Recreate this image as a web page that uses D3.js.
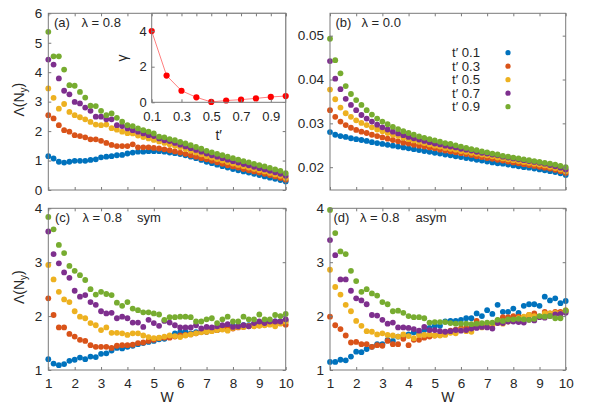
<!DOCTYPE html>
<html><head><meta charset="utf-8">
<script src="https://cdn.jsdelivr.net/npm/d3@7"></script>
<style>
body{margin:0;background:#fff}
svg{display:block}
text{font-family:"Liberation Sans",Arial,Helvetica,sans-serif;fill:#262626}
</style>
</head><body>
<svg id="chart" width="589" height="412"></svg>
<script>
// ---------------- data ----------------
const W = [1.0,1.2,1.4,1.6,1.8,2.0,2.2,2.4,2.6,2.8,3.0,3.2,3.4,3.6,3.8,4.0,4.2,4.4,4.6,4.8,5.0,5.2,5.4,5.6,5.8,6.0,6.2,6.4,6.6,6.8,7.0,7.2,7.4,7.6,7.8,8.0,8.2,8.4,8.6,8.8,9.0,9.2,9.4,9.6,9.8,10.0];
const seriesNames = ["t\u2032 0.1","t\u2032 0.3","t\u2032 0.5","t\u2032 0.7","t\u2032 0.9"];
const xTicks = [1,2,3,4,5,6,7,8,9,10];
const aTicks = [0,1,2,3,4,5,6];
const bTicks = [0.02,0.03,0.04,0.05];
const cdTicks = [1,2,3,4];

// panel (a) lambda = 0.8
const a_t01 = [1.15,1.07,0.96,0.93,0.96,0.99,0.99,0.99,1.02,1.04,1.11,1.13,1.15,1.18,1.19,1.24,1.27,1.30,1.30,1.32,1.32,1.32,1.30,1.27,1.25,1.22,1.18,1.13,1.08,1.02,0.96,0.91,0.86,0.81,0.76,0.71,0.67,0.63,0.59,0.55,0.51,0.46,0.42,0.38,0.34,0.29];
const a_t03 = [2.54,2.43,2.20,2.03,1.98,1.86,1.83,1.79,1.72,1.72,1.67,1.60,1.53,1.49,1.49,1.49,1.55,1.45,1.45,1.45,1.43,1.41,1.38,1.35,1.31,1.27,1.23,1.18,1.13,1.08,1.04,0.99,0.94,0.89,0.84,0.80,0.76,0.71,0.67,0.63,0.59,0.55,0.51,0.46,0.41,0.35];
const a_t05 = [3.45,3.13,2.76,2.92,2.65,2.54,2.47,2.40,2.31,2.22,2.20,2.22,2.10,2.05,1.98,1.93,1.92,1.85,1.80,1.75,1.70,1.65,1.60,1.55,1.50,1.45,1.39,1.33,1.27,1.21,1.15,1.10,1.05,1.00,0.95,0.90,0.85,0.81,0.76,0.72,0.67,0.63,0.58,0.53,0.48,0.41];
const a_t07 = [4.43,4.26,3.79,3.37,3.25,2.99,2.94,2.80,2.69,2.49,2.49,2.40,2.40,2.20,2.17,2.09,2.03,1.98,1.92,1.86,1.83,1.75,1.69,1.66,1.60,1.54,1.48,1.42,1.36,1.30,1.24,1.18,1.13,1.08,1.03,0.98,0.93,0.88,0.84,0.79,0.74,0.70,0.65,0.60,0.55,0.48];
const a_t09 = [5.37,4.54,4.54,4.09,3.56,3.54,3.33,3.14,2.86,2.85,2.69,2.54,2.60,2.45,2.32,2.20,2.17,2.09,2.03,1.98,1.92,1.81,1.79,1.73,1.69,1.63,1.58,1.52,1.46,1.40,1.33,1.28,1.23,1.18,1.13,1.08,1.03,0.98,0.94,0.89,0.84,0.80,0.75,0.70,0.65,0.57];

// inset gamma vs t'
const tPrime = [0.1,0.2,0.3,0.4,0.5,0.6,0.7,0.8,0.9,1.0];
const gamma = [4.0,1.5,0.65,0.28,0.02,0.10,0.15,0.22,0.30,0.35];
const insetXTicks = [0.1,0.3,0.5,0.7,0.9];
const insetYTicks = [0,2,4];

// panel (b) lambda = 0.0
const b_t01 = [0.0280,0.0274,0.0271,0.0269,0.0266,0.0264,0.0262,0.0260,0.0257,0.0255,0.0253,0.0251,0.0249,0.0247,0.0245,0.0243,0.0241,0.0239,0.0237,0.0235,0.0233,0.0231,0.0229,0.0227,0.0225,0.0223,0.0221,0.0219,0.0217,0.0215,0.0213,0.0211,0.0209,0.0208,0.0206,0.0204,0.0202,0.0200,0.0199,0.0197,0.0195,0.0193,0.0191,0.0189,0.0186,0.0182];
const b_t03 = [0.0330,0.0315,0.0304,0.0296,0.0290,0.0285,0.0281,0.0278,0.0274,0.0271,0.0268,0.0265,0.0262,0.0259,0.0256,0.0254,0.0251,0.0249,0.0247,0.0245,0.0243,0.0240,0.0238,0.0236,0.0234,0.0232,0.0230,0.0228,0.0225,0.0223,0.0221,0.0219,0.0217,0.0215,0.0213,0.0211,0.0209,0.0207,0.0205,0.0203,0.0201,0.0199,0.0197,0.0194,0.0191,0.0187];
const b_t05 = [0.0377,0.0355,0.0336,0.0323,0.0315,0.0307,0.0301,0.0296,0.0291,0.0286,0.0282,0.0278,0.0274,0.0271,0.0267,0.0264,0.0261,0.0258,0.0255,0.0252,0.0249,0.0247,0.0244,0.0242,0.0240,0.0237,0.0235,0.0233,0.0231,0.0229,0.0227,0.0225,0.0222,0.0220,0.0218,0.0216,0.0214,0.0212,0.0210,0.0208,0.0206,0.0204,0.0201,0.0198,0.0195,0.0191];
const b_t07 = [0.0442,0.0402,0.0378,0.0356,0.0342,0.0330,0.0319,0.0311,0.0304,0.0297,0.0291,0.0286,0.0281,0.0277,0.0273,0.0269,0.0266,0.0263,0.0260,0.0257,0.0254,0.0252,0.0249,0.0247,0.0245,0.0242,0.0240,0.0238,0.0235,0.0233,0.0231,0.0229,0.0227,0.0224,0.0222,0.0220,0.0218,0.0216,0.0214,0.0212,0.0210,0.0208,0.0205,0.0202,0.0199,0.0195];
const b_t09 = [0.0493,0.0444,0.0414,0.0385,0.0367,0.0353,0.0342,0.0330,0.0320,0.0311,0.0304,0.0298,0.0292,0.0287,0.0282,0.0278,0.0274,0.0270,0.0267,0.0264,0.0261,0.0258,0.0255,0.0253,0.0250,0.0247,0.0244,0.0241,0.0239,0.0236,0.0234,0.0231,0.0229,0.0226,0.0224,0.0222,0.0220,0.0218,0.0216,0.0214,0.0212,0.0210,0.0208,0.0206,0.0203,0.0200];

// panel (c) lambda = 0.8 sym
const c_t01 = [1.20,1.12,1.09,1.11,1.17,1.19,1.23,1.20,1.25,1.24,1.30,1.31,1.36,1.41,1.40,1.43,1.45,1.48,1.50,1.52,1.54,1.57,1.58,1.62,1.68,1.70,1.71,1.68,1.70,1.71,1.71,1.74,1.74,1.77,1.79,1.82,1.82,1.83,1.83,1.85,1.87,1.87,1.89,1.90,1.90,1.91];
const c_t03 = [2.33,2.02,1.79,1.79,1.67,1.62,1.56,1.54,1.46,1.43,1.43,1.43,1.41,1.45,1.46,1.46,1.47,1.50,1.51,1.54,1.56,1.59,1.60,1.60,1.62,1.64,1.65,1.66,1.68,1.71,1.71,1.73,1.74,1.76,1.77,1.77,1.79,1.80,1.82,1.82,1.83,1.84,1.85,1.87,1.87,1.84];
const c_t05 = [2.95,2.68,2.45,2.31,2.26,2.09,1.99,1.96,1.87,1.83,1.74,1.79,1.69,1.69,1.68,1.65,1.68,1.68,1.64,1.61,1.59,1.60,1.62,1.64,1.63,1.61,1.64,1.66,1.68,1.70,1.71,1.72,1.74,1.75,1.73,1.78,1.80,1.80,1.81,1.81,1.82,1.83,1.84,1.81,1.86,1.90];
const c_t07 = [3.57,3.15,2.98,2.81,2.71,2.47,2.36,2.39,2.26,2.21,2.09,2.05,2.06,1.96,1.99,1.96,1.88,1.88,1.80,1.93,1.87,1.82,1.91,1.88,1.83,1.79,1.79,1.79,1.83,1.77,1.80,1.79,1.81,1.83,1.85,1.80,1.81,1.83,1.81,1.87,1.90,1.87,1.90,1.90,1.90,1.94];
const c_t09 = [3.84,3.61,3.32,3.17,2.93,2.84,2.76,2.67,2.50,2.40,2.45,2.41,2.39,2.25,2.19,2.26,2.14,2.11,2.07,2.07,2.05,2.03,1.93,1.98,1.98,1.99,1.99,1.98,1.90,1.90,1.94,1.96,1.87,1.94,1.99,1.90,1.90,1.99,1.94,1.94,2.03,1.94,1.94,2.02,2.00,2.04];

// panel (d) lambda = 0.8 asym
const d_t01 = [1.15,1.15,1.19,1.18,1.25,1.34,1.33,1.39,1.43,1.48,1.48,1.56,1.54,1.62,1.63,1.66,1.70,1.68,1.74,1.78,1.82,1.82,1.90,1.91,1.91,1.93,1.96,1.96,2.05,2.00,2.11,2.04,2.21,2.08,2.08,2.14,2.06,2.19,2.22,2.22,2.19,2.36,2.29,2.33,2.24,2.28];
const d_t03 = [1.99,1.83,1.76,1.64,1.51,1.52,1.48,1.48,1.43,1.46,1.45,1.54,1.48,1.48,1.58,1.46,1.56,1.56,1.60,1.62,1.64,1.65,1.70,1.73,1.75,1.77,1.78,1.80,1.91,1.82,1.85,1.84,1.92,1.98,1.98,2.00,1.99,1.98,2.02,2.05,1.99,2.08,2.05,2.08,2.08,2.10];
const d_t05 = [2.86,2.54,2.40,2.21,2.09,1.91,1.82,1.72,1.71,1.66,1.68,1.65,1.64,1.62,1.66,1.63,1.59,1.65,1.65,1.66,1.64,1.64,1.65,1.69,1.68,1.74,1.72,1.71,1.80,1.79,1.85,1.83,1.87,1.86,1.90,1.92,1.96,1.99,2.02,2.00,1.99,2.05,2.05,2.06,2.05,2.11];
const d_t07 = [3.41,3.13,2.68,2.68,2.47,2.33,2.29,2.22,2.02,2.01,1.93,1.86,1.88,1.79,1.79,1.78,1.76,1.73,1.80,1.74,1.74,1.72,1.71,1.72,1.74,1.73,1.74,1.77,1.78,1.80,1.79,1.77,1.87,1.87,1.90,1.90,1.89,1.88,1.93,1.92,1.98,1.97,2.00,2.03,2.04,2.06];
const d_t09 = [3.97,3.54,3.20,3.15,2.84,2.65,2.45,2.50,2.42,2.38,2.26,2.22,2.09,2.10,2.06,2.00,1.98,1.98,1.96,1.88,1.89,1.89,1.89,1.87,1.86,1.86,1.86,1.85,1.86,1.87,1.88,1.88,1.93,1.91,1.94,1.94,1.95,1.94,1.93,1.95,2.00,1.99,2.00,1.96,1.96,2.10];

// ---------------- drawing ----------------
const colors = ["#0072BD","#D95319","#EDB120","#7E2F8E","#77AC30"];
const frameColor = "#7a7a7a";
const FS = 13.5;     // main tick labels
const FST = 13;      // panel titles
const FSI = 13;      // inset tick labels
const FSL = 12;      // legend

const svg = d3.select("#chart");
svg.append("rect").attr("width",589).attr("height",412).attr("fill","#fff");

function styleAxis(sel, fs){
  sel.select(".domain").remove();
  sel.attr("font-family",null).attr("font-size",null);
  sel.selectAll(".tick line").attr("stroke",frameColor);
  sel.selectAll(".tick text").attr("fill","#262626").style("font-size",fs+"px");
}

function panel(cfg){
  const x = d3.scaleLinear().domain([1,10]).range([cfg.l,cfg.r]);
  const y = d3.scaleLinear().domain(cfg.ydom).range([cfg.b,cfg.t]);
  const g = svg.append("g");
  cfg.series.forEach((s,i)=>{
    g.append("g").selectAll("circle").data(s).join("circle")
      .attr("cx",(d,j)=>x(W[j])).attr("cy",d=>y(d)).attr("r",2.9).attr("fill",colors[i]);
  });
  // axes (inward ticks on all four sides)
  g.append("g").attr("transform",`translate(0,${cfg.b})`)
    .call(d3.axisBottom(x).tickValues(xTicks).tickSize(-3).tickPadding(8.5)
      .tickFormat(cfg.xlabels ? d3.format("d") : ""))
    .call(s=>styleAxis(s,FS));
  g.append("g").attr("transform",`translate(0,${cfg.t})`)
    .call(d3.axisTop(x).tickValues(xTicks).tickSize(-3).tickFormat(""))
    .call(s=>styleAxis(s,FS));
  g.append("g").attr("transform",`translate(${cfg.l},0)`)
    .call(d3.axisLeft(y).tickValues(cfg.yticks).tickSize(-3).tickPadding(6).tickFormat(cfg.yfmt))
    .call(s=>styleAxis(s,FS));
  g.append("g").attr("transform",`translate(${cfg.r},0)`)
    .call(d3.axisRight(y).tickValues(cfg.yticks).tickSize(-3).tickFormat(""))
    .call(s=>styleAxis(s,FS));
  g.append("rect").attr("x",cfg.l).attr("y",cfg.t).attr("width",cfg.r-cfg.l).attr("height",cfg.b-cfg.t)
    .attr("fill","none").attr("stroke",frameColor).attr("stroke-width",1);
  // titles
  cfg.title.forEach(t=>{
    g.append("text").attr("x",t[0]).attr("y",cfg.t+13.5).style("font-size",FST+"px").text(t[1]);
  });
  if(cfg.xlabels){
    g.append("text").attr("x",(cfg.l+cfg.r)/2).attr("y",cfg.b+32).attr("text-anchor","middle")
      .style("font-size","14px").text("W");
  }
  if(cfg.ylabel){
    const cy = (cfg.t+cfg.b)/2 - 2;
    const tx = g.append("text").attr("transform",`translate(24,${cy}) rotate(-90)`)
      .attr("text-anchor","middle").style("font-size","14px");
    tx.append("tspan").text("\u039B(N");
    tx.append("tspan").attr("dy","0.3em").style("font-size","10px").text("y");
    tx.append("tspan").attr("dy","-0.3em").text(")");
  }
  return {g,x,y};
}

const top0 = 13.3, bot0 = 190, top1 = 208.3, bot1 = 370;
const L0 = 48.3, R0 = 285.7, L1 = 330, R1 = 565.7;

panel({l:L0,r:R0,t:top0,b:bot0,ydom:[0,6],yticks:aTicks,yfmt:d3.format("d"),
  series:[a_t01,a_t03,a_t05,a_t07,a_t09],xlabels:false,ylabel:true,
  title:[[54,"(a)"],[81.5,"\u03BB = 0.8"]]});
panel({l:L1,r:R1,t:top0,b:bot0,ydom:[0.0148,0.0551],yticks:bTicks,yfmt:d3.format(".2f"),
  series:[b_t01,b_t03,b_t05,b_t07,b_t09],xlabels:false,ylabel:false,
  title:[[335.5,"(b)"],[361.5,"\u03BB = 0.0"]]});
panel({l:L0,r:R0,t:top1,b:bot1,ydom:[1,4],yticks:cdTicks,yfmt:d3.format("d"),
  series:[c_t01,c_t03,c_t05,c_t07,c_t09],xlabels:true,ylabel:true,
  title:[[55,"(c)"],[82.5,"\u03BB = 0.8"],[137,"sym"]]});
panel({l:L1,r:R1,t:top1,b:bot1,ydom:[1,4],yticks:cdTicks,yfmt:d3.format("d"),
  series:[d_t01,d_t03,d_t05,d_t07,d_t09],xlabels:true,ylabel:false,
  title:[[333.5,"(d)"],[360,"\u03BB = 0.8"],[415.5,"asym"]]});

// legend in (b)
const leg = svg.append("g");
seriesNames.forEach((n,i)=>{
  const yy = 57 + i*13.5;
  leg.append("text").attr("x",452).attr("y",yy).style("font-size",FSL+"px")
    .attr("textLength",28).attr("lengthAdjust","spacingAndGlyphs").text(n);
  leg.append("circle").attr("cx",508).attr("cy",yy-4.3).attr("r",2.6).attr("fill",colors[i]);
});

// inset in (a)
const iL = 151.7, iR = 285.7, iT = 13.3, iB = 102.3;
const ix = d3.scaleLinear().domain([0.1,1.0]).range([iL,iR]);
const iy = d3.scaleLinear().domain([0,5]).range([iB,iT]);
const ig = svg.append("g");
ig.append("rect").attr("x",iL).attr("y",iT).attr("width",iR-iL).attr("height",iB-iT).attr("fill","#fff");
ig.append("path").datum(gamma)
  .attr("d",d3.line().x((d,i)=>ix(tPrime[i])).y(d=>iy(d)))
  .attr("fill","none").attr("stroke","#ff8080").attr("stroke-width",1);
ig.append("g").selectAll("circle").data(gamma).join("circle")
  .attr("cx",(d,i)=>ix(tPrime[i])).attr("cy",d=>iy(d)).attr("r",3.1).attr("fill","#ff0000");
ig.append("g").attr("transform",`translate(0,${iB})`)
  .call(d3.axisBottom(ix).tickValues(insetXTicks).tickSize(-3).tickPadding(9).tickFormat(d3.format(".1f")))
  .call(s=>styleAxis(s,FSI));
ig.append("g").attr("transform",`translate(0,${iT})`)
  .call(d3.axisTop(ix).tickValues(tPrime).tickSize(-3).tickFormat(""))
  .call(s=>styleAxis(s,FSI));
ig.append("g").attr("transform",`translate(${iL},0)`)
  .call(d3.axisLeft(iy).tickValues(insetYTicks).tickSize(-3).tickPadding(5).tickFormat(d3.format("d")))
  .call(s=>styleAxis(s,FSI));
ig.append("rect").attr("x",iL).attr("y",iT).attr("width",iR-iL).attr("height",iB-iT)
  .attr("fill","none").attr("stroke",frameColor).attr("stroke-width",1);
ig.append("text").attr("x",(iL+iR)/2).attr("y",140).attr("text-anchor","middle")
  .style("font-size","14px").text("t\u2032");
ig.append("text").attr("transform",`translate(127,58) rotate(-90)`).attr("text-anchor","middle")
  .style("font-size","14px").text("\u03B3");
</script>
</body></html>
